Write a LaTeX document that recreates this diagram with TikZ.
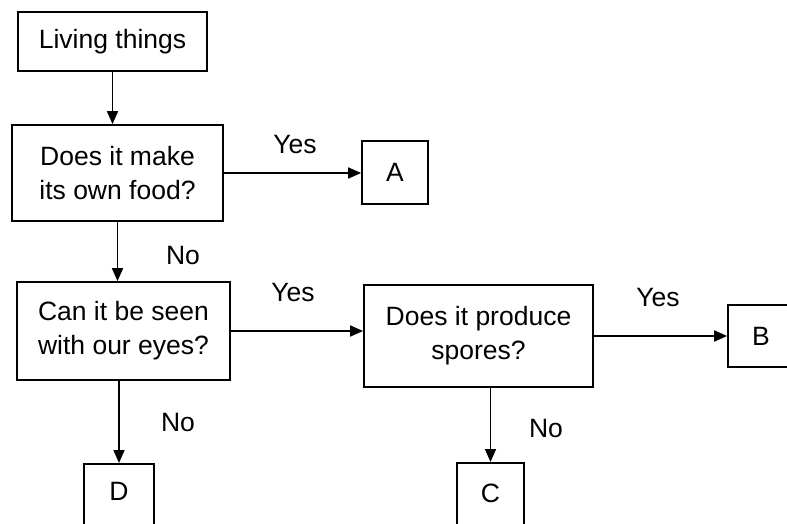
\documentclass[tikz,border=0pt]{standalone}
\usepackage{fontspec}
\setmainfont{Liberation Sans}
\usetikzlibrary{arrows.meta}
\begin{document}
\begin{tikzpicture}[x=1pt,y=-1pt,
  box/.style={draw, line width=1.7pt, rectangle, inner sep=0pt, align=center,
    font=\fontsize{26.5}{34}\selectfont},
  lbl/.style={inner sep=0pt, font=\fontsize{26.5}{32}\selectfont},
  arr/.style={line width=1.7pt, -{Triangle[length=13pt,width=11pt]}}]
\clip (0,0) rectangle (787,524);
\fill[white] (0,0) rectangle (787,524);
\node[box, minimum width=189pt, minimum height=59pt] (living) at (112.5,41.5) {Living things};
\node[box, minimum width=211pt, minimum height=96pt] (food) at (117.5,173) {Does it make\\its own food?};
\node[box, minimum width=66pt, minimum height=63pt] (A) at (395,172.5) {A};
\node[box, minimum width=213pt, minimum height=98pt] (eyes) at (123.5,331) {Can it be seen\\with our eyes?};
\node[box, minimum width=229pt, minimum height=102pt] (spores) at (478.5,336) {Does it produce\\spores?};
\node[box, minimum width=66pt, minimum height=62pt] (B) at (761,336) {B};
\node[box, minimum width=70pt, text height=37pt, text depth=40pt, anchor=north] (D) at (119,463) {D};
\node[box, minimum width=67pt, text height=40pt, text depth=40pt, anchor=north] (C) at (490.5,462) {C};
\draw[arr] (living.south) -- (living.south |- food.north);
\draw[arr] (food.east) -- (food.east -| A.west);
\draw[arr] (food.south) -- (food.south |- eyes.north);
\draw[arr] (eyes.east) -- (eyes.east -| spores.west);
\draw[arr] (eyes.south -| D.north) -- (D.north);
\draw[arr] (spores.east) -- (spores.east -| B.west);
\draw[arr] (spores.south -| C.north) -- (C.north);
\node[lbl] (yes1) at (295,145) {Yes};
\node[lbl] (no1) at (183,256) {No};
\node[lbl] (yes2) at (293,293) {Yes};
\node[lbl] (no2) at (178,423) {No};
\node[lbl] (yes3) at (658,298) {Yes};
\node[lbl] (no3) at (546,429) {No};
\end{tikzpicture}
\end{document}
